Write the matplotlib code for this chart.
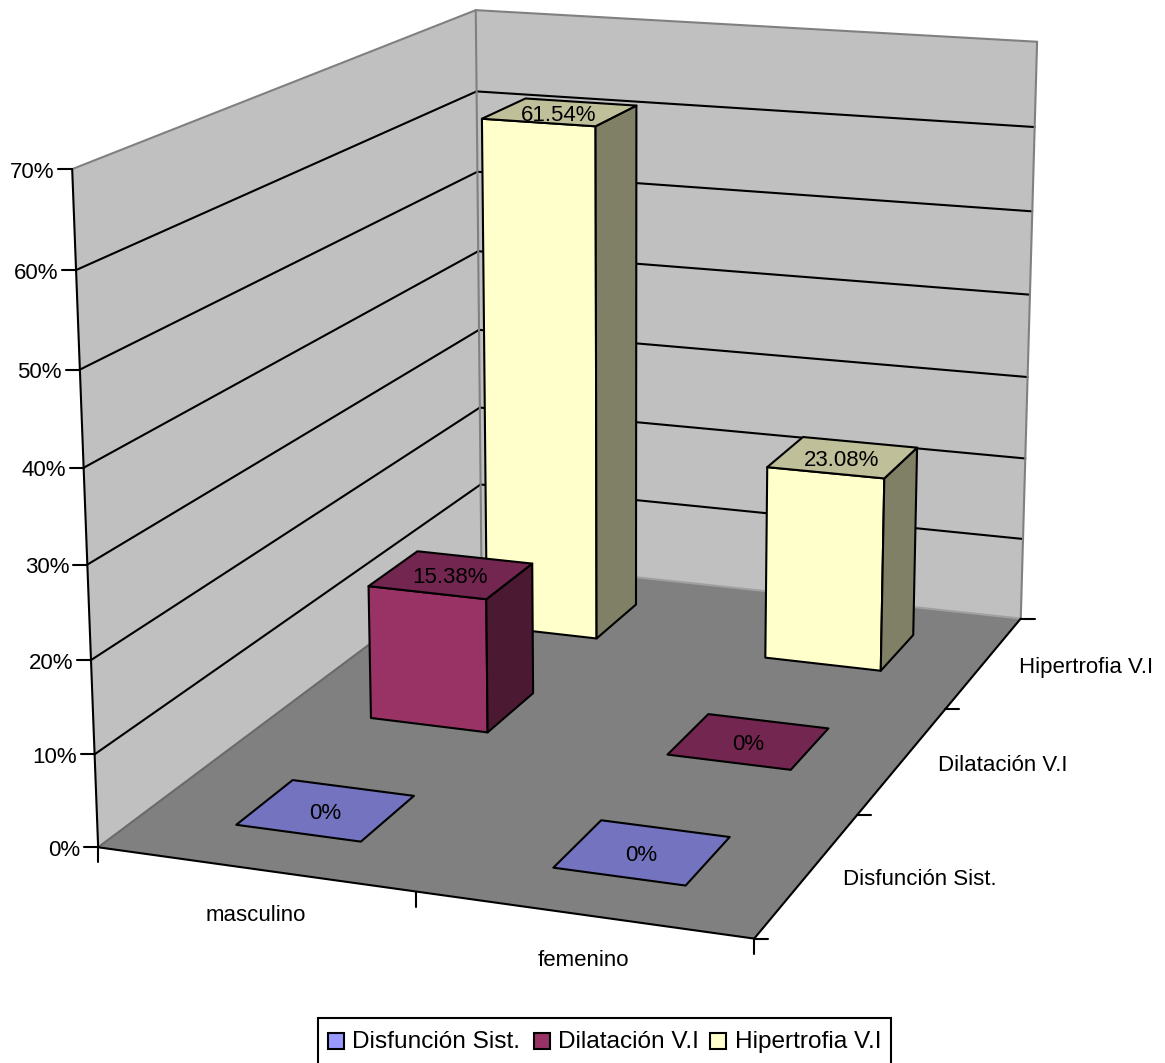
#!/usr/bin/env python3
# -*- coding: utf-8 -*-
import numpy as np
import matplotlib
matplotlib.use('Agg')
import matplotlib.pyplot as plt
from matplotlib.patches import Polygon, Rectangle

plt.rcParams['font.family'] = ['Liberation Sans', 'DejaVu Sans']

categories = ['masculino', 'femenino']
series_names = ['Disfunción Sist.', 'Dilatación V.I', 'Hipertrofia V.I']
disfuncion = [0, 0]
dilatacion = [15.38, 0]
hipertrofia = [61.54, 23.08]
y_ticks = [0, 10, 20, 30, 40, 50, 60, 70]

front_colors = ['#9999FF', '#993366', '#FFFFCC']
top_colors = ['#7373BF', '#732650', '#BFBF99']
side_colors = ['#4D4D80', '#4C1933', '#808066']

FONT = 16.0
LEGEND_FONT = 17.6
LW = 1.5
BAR_W = 0.2
BAR_D = 0.1333

# box corners on the canvas, used to solve the camera
corners = [
    ((0, 0, 0), (98.5, 847)),
    ((1, 0, 0), (754, 939)),
    ((1, 1, 0), (1021, 618)),
    ((0, 1, 0), (481, 561)),
    ((0, 0, 1), (72, 169)),
    ((0, 1, 1), (476, 10)),
    ((1, 1, 1), (1037, 42)),
]


def solveCamera(pairs):
    rows = []
    for (x, y, z), (u, v) in pairs:
        rows.append([x, y, z, 1, 0, 0, 0, 0, -u * x, -u * y, -u * z, -u])
        rows.append([0, 0, 0, 0, x, y, z, 1, -v * x, -v * y, -v * z, -v])
    return np.linalg.svd(np.array(rows, dtype=float))[2][-1].reshape(3, 4)


camera = solveCamera(corners)


def project(x, y, value=0):
    p = camera @ np.array([x, y, value / 70.0, 1.0])
    return p[0] / p[2], p[1] / p[2]


def drawFace(ax, points, color, edge='none', zorder=1):
    ax.add_patch(Polygon(points, closed=True, facecolor=color, edgecolor=edge,
                         lw=LW, joinstyle='round', zorder=zorder))


def drawLine(ax, a, b, color='black', lw=LW, zorder=2):
    ax.plot([a[0], b[0]], [a[1], b[1]], color=color, lw=lw, zorder=zorder,
            solid_capstyle='round')


def drawBar(ax, cx, cy, value, n, zorder):
    x0, x1 = cx - BAR_W / 2, cx + BAR_W / 2
    y0, y1 = cy - BAR_D / 2, cy + BAR_D / 2
    if value > 0:
        drawFace(ax, [project(x0, y0), project(x1, y0), project(x1, y0, value), project(x0, y0, value)],
                 front_colors[n], 'black', zorder)
        drawFace(ax, [project(x1, y0), project(x1, y1), project(x1, y1, value), project(x1, y0, value)],
                 side_colors[n], 'black', zorder)
    drawFace(ax, [project(x0, y0, value), project(x1, y0, value), project(x1, y1, value), project(x0, y1, value)],
             top_colors[n], 'black', zorder)
    tx, ty = project(cx, cy, value)
    ax.text(tx - 1, ty + 3, f'{value:g}%', ha='center', va='center', fontsize=FONT,
            color='black', zorder=zorder + 0.5)


fig = plt.figure(figsize=(11.65, 10.63), dpi=100)
ax = fig.add_axes([0, 0, 1, 1])
ax.set_xlim(0, 1165)
ax.set_ylim(1063, 0)
ax.axis('off')

# walls and floor
drawFace(ax, [project(0, 0), project(0, 1), project(0, 1, 70), project(0, 0, 70)], '#C0C0C0')
drawFace(ax, [project(0, 1), project(1, 1), project(1, 1, 70), project(0, 1, 70)], '#C0C0C0')
drawFace(ax, [project(0, 0), project(1, 0), project(1, 1), project(0, 1)], '#808080')

# gridlines on both walls
for t in y_ticks[1:-1]:
    drawLine(ax, project(0, 0, t), project(0, 1, t))
    drawLine(ax, project(0, 1, t), project(1, 1, t))

# wall outline
gray = '#808080'
drawLine(ax, project(0, 0, 70), project(0, 1, 70), gray)
drawLine(ax, project(0, 1, 70), project(1, 1, 70), gray)
drawLine(ax, project(0, 1, 70), project(0, 1), gray)
drawLine(ax, project(1, 1, 70), project(1, 1), gray)
drawLine(ax, project(0, 0), project(0, 1), '#6a6a6a')
drawLine(ax, project(0, 1), project(1, 1), '#a0a0a0')

# axes
drawLine(ax, project(0, 0), project(0, 0, 70))
drawLine(ax, project(0, 0), project(1, 0))
drawLine(ax, project(1, 0), project(1, 1))

for t in y_ticks:
    px, py = project(0, 0, t)
    drawLine(ax, (px - 14, py), (px, py))
    ax.text(px - 18, py + 3, f'{t}%', ha='right', va='center', fontsize=FONT)

for x in [0, 0.5, 1]:
    px, py = project(x, 0)
    drawLine(ax, (px, py), (px, py + 15))

for y in [0, 1 / 3, 2 / 3, 1]:
    px, py = project(1, y)
    drawLine(ax, (px, py), (px + 14, py))

for i, name in enumerate(categories):
    px, py = project(0.25 + 0.5 * i, 0)
    ax.text(px + 1, py + 46, name, ha='center', va='center', fontsize=FONT)

for i, name in enumerate(series_names):
    px, py = project(1, (i + 0.5) / 3)
    ax.text(px + 35, py + 5, name, ha='left', va='center', fontsize=FONT)

# bars, back row first
all_series = [disfuncion, dilatacion, hipertrofia]
order = 5
for n in [2, 1, 0]:
    for i in range(2):
        drawBar(ax, 0.25 + 0.5 * i, (n + 0.5) / 3, all_series[n][i], n, order)
        order += 1

# legend box, its lower edge runs off the canvas
ax.add_patch(Rectangle((318, 1018), 573, 60, facecolor='white', edgecolor='black', lw=LW, zorder=30))
for sx, tx, name, col in zip([328, 534, 710], [352, 558, 735], series_names, front_colors):
    ax.add_patch(Rectangle((sx, 1033), 16, 16, facecolor=col, edgecolor='black', lw=LW, zorder=31))
    ax.text(tx, 1042, name, ha='left', va='center', fontsize=LEGEND_FONT, zorder=31)

plt.savefig('out.png', dpi=100)
plt.close()
